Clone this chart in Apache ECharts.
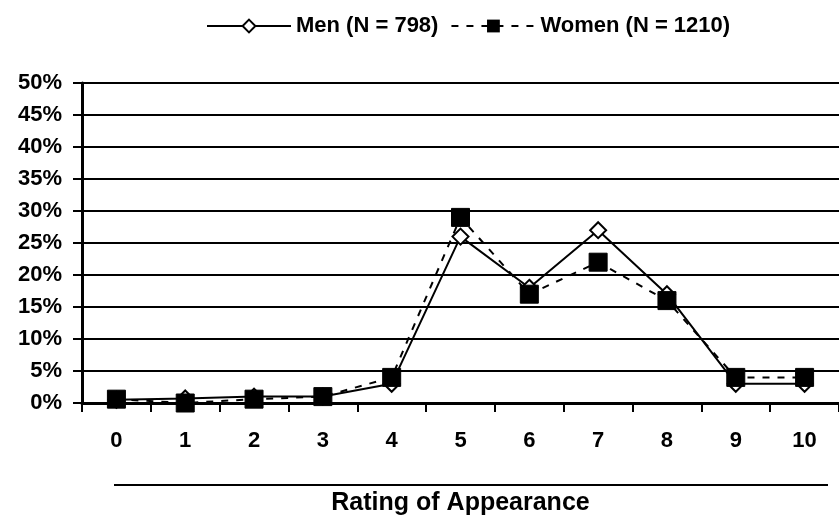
<!DOCTYPE html>
<html>
<head>
<meta charset="utf-8">
<script src="https://cdn.jsdelivr.net/npm/echarts@6/dist/echarts.min.js"></script>
<style>
  html, body { margin: 0; padding: 0; background: #fff; }
  #chart { width: 839px; height: 521px; }
</style>
</head>
<body>
<div id="chart"></div>
<script>
const ratings = ['0', '1', '2', '3', '4', '5', '6', '7', '8', '9', '10'];
const men = [0.5, 0.7, 1, 1, 3, 26, 18, 27, 17, 3, 3];
const women = [0.6, 0, 0.6, 1, 4, 29, 17, 22, 16, 4, 4];
const yTicks = [0, 5, 10, 15, 20, 25, 30, 35, 40, 45, 50];

const FONT = '"Liberation Sans", Arial, sans-serif';
const chart = echarts.init(document.getElementById('chart'));

chart.setOption({
  animation: false,
  textStyle: { fontFamily: FONT },
  legend: {
    top: 10,
    left: 201,
    itemWidth: 84,
    itemHeight: 16,
    itemGap: 12,
    textStyle: { fontFamily: FONT, fontWeight: 'bold', fontSize: 22, color: '#000' },
    data: ['Men (N = 798)', 'Women (N = 1210)']
  },
  // plot runs past the right edge, as in the reference
  grid: { left: 82, top: 83, width: 770, height: 337 },
  xAxis: {
    type: 'category',
    data: ratings,
    boundaryGap: true,
    name: 'Rating of Appearance',
    nameLocation: 'middle',
    nameGap: 88,
    nameTextStyle: { fontFamily: FONT, fontWeight: 'bold', fontSize: 25, color: '#000' },
    axisLine: { lineStyle: { color: '#000', width: 3 } },
    axisTick: { show: true, length: 9, lineStyle: { color: '#000', width: 2 } },
    axisLabel: { fontFamily: FONT, fontWeight: 'bold', fontSize: 22, color: '#000', margin: 27 }
  },
  yAxis: {
    type: 'value',
    min: 0,
    max: 50,
    interval: 5,
    axisLine: { show: true, lineStyle: { color: '#000', width: 3 } },
    axisTick: { show: true, length: 9, lineStyle: { color: '#000', width: 2 } },
    splitLine: { lineStyle: { color: '#000', width: 2 } },
    axisLabel: {
      fontFamily: FONT, fontWeight: 'bold', fontSize: 22, color: '#000', margin: 20,
      formatter: v => yTicks.includes(v) ? v + '%' : ''
    }
  },
  graphic: [{
    type: 'line',
    shape: { x1: 114, y1: 485, x2: 828, y2: 485 },
    style: { stroke: '#000', lineWidth: 2 }
  }],
  series: [
    {
      name: 'Men (N = 798)',
      type: 'line',
      data: men,
      symbol: 'diamond',
      symbolSize: 16,
      lineStyle: { color: '#000', width: 2, type: 'solid' },
      itemStyle: { color: '#fff', borderColor: '#000', borderWidth: 2 },
      z: 3
    },
    {
      name: 'Women (N = 1210)',
      type: 'line',
      data: women,
      symbol: 'rect',
      symbolSize: 18,
      lineStyle: { color: '#000', width: 2, type: [7, 8] },
      itemStyle: { color: '#000', borderColor: '#000' },
      z: 4
    }
  ]
});
</script>
</body>
</html>
